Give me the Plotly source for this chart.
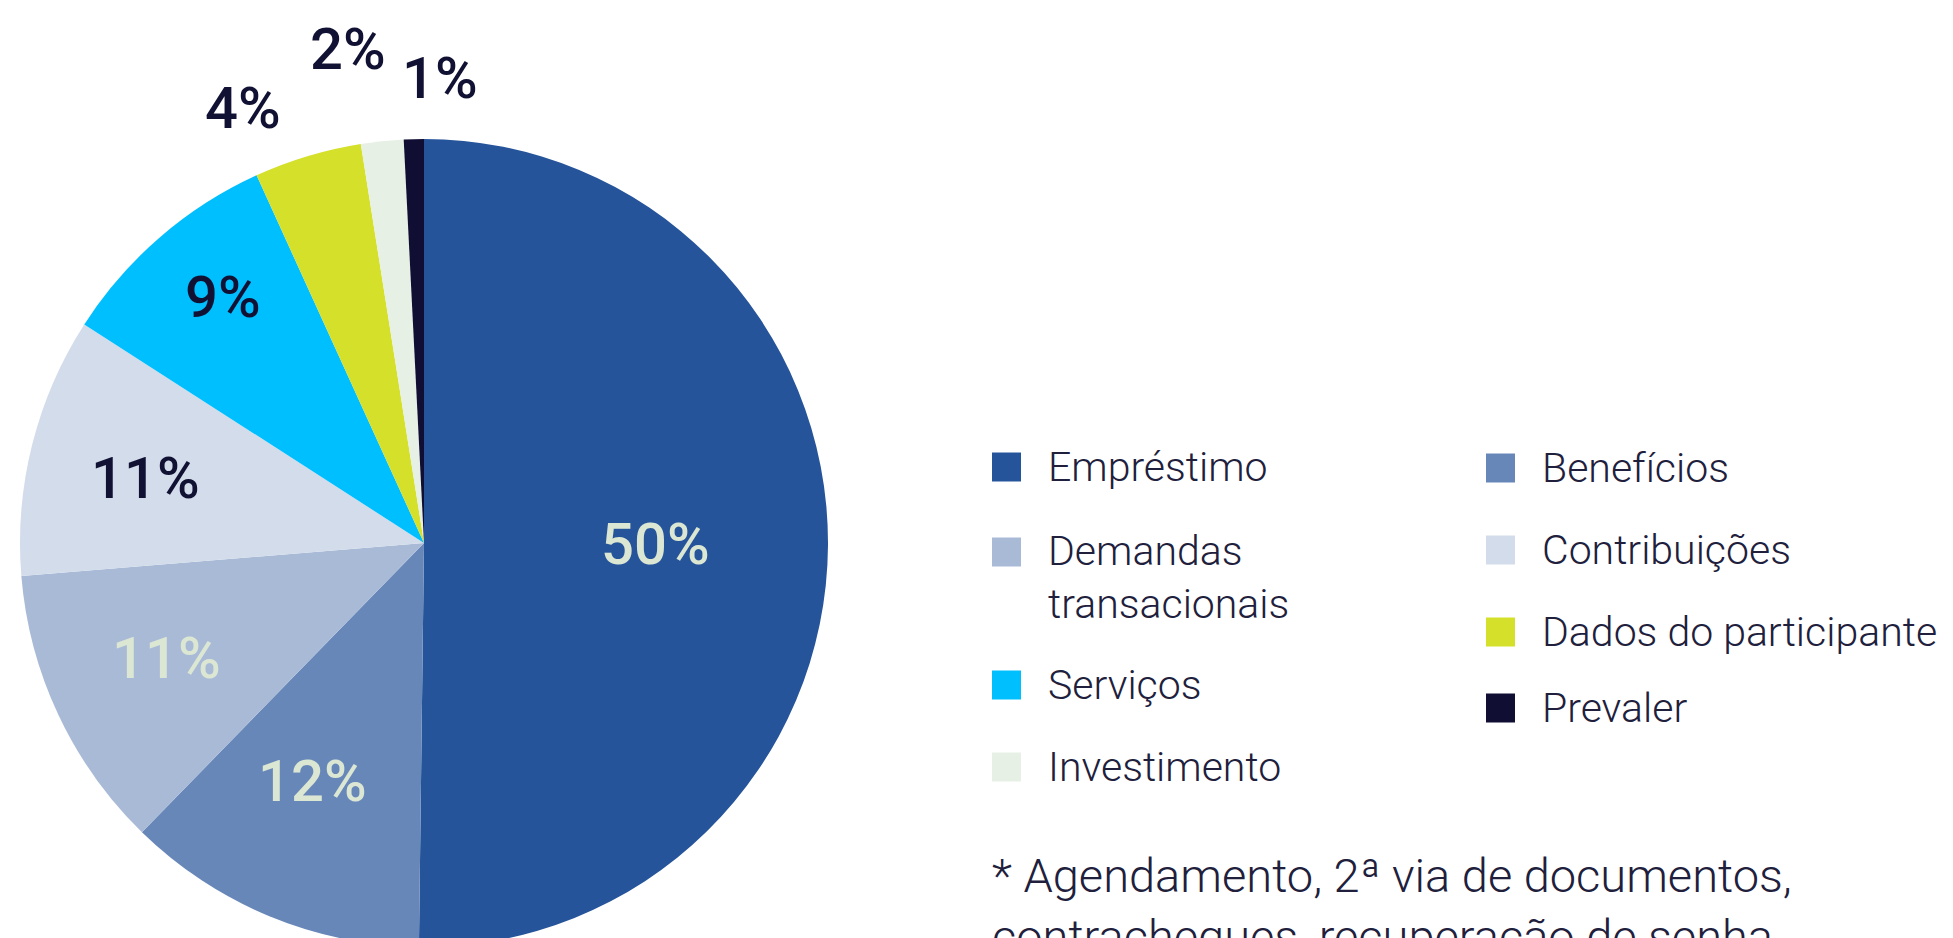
import math
import plotly.graph_objects as go

# ---- data ----
categories = ["Empréstimo", "Benefícios", "Demandas transacionais", "Contribuições",
              "Serviços", "Dados do participante", "Investimento", "Prevaler"]
# slice shares
values = [50.2, 12.1, 11.4, 10.4, 9.1, 4.3, 1.7, 0.8]
# percentages as printed on the chart
pct_labels = ["50%", "12%", "11%", "11%", "9%", "4%", "2%", "1%"]
colors = ["#25549a", "#6787b9", "#a9bad7", "#d3dcea",
          "#00bfff", "#d4e029", "#e6f0e4", "#100e33"]
label_colors = ["#dbe6d3", "#dbe6d3", "#dbe6d3", "#111133",
                "#111133", "#111133", "#111133", "#111133"]
footnote = "* Agendamento, 2ª via de documentos,<br>contracheques, recuperação de senha"

# legend layout (two columns), item order per column
legend_left = ["Empréstimo", "Demandas transacionais", "Serviços", "Investimento"]
legend_right = ["Benefícios", "Contribuições", "Dados do participante", "Prevaler"]

# percentage label placement per slice: (radial factor of the radius, angle nudge in degrees)
label_radial = [0.574, 0.651, 0.697, 0.707, 0.786, 1.166, 1.237, 1.151]
label_nudge = [-0.1, 2.7, 1.1, -0.8, 1.6, -5.9, -2.8, 3.4]

W, H = 1953, 1000
FONT = "Roboto"
TXT = "#20203c"
LABEL_SIZE = 58

# pie geometry (pixels)
CX, CY, R = 424, 543, 404

def px(x):
    return x / W

def py(y):
    return 1 - y / H

fig = go.Figure()
fig.add_trace(go.Pie(
    labels=categories,
    values=values,
    sort=False,
    direction="clockwise",
    rotation=0,
    marker=dict(colors=colors, line=dict(width=0)),
    textinfo="none",
    showlegend=False,
    hoverinfo="label+percent",
    domain=dict(x=[px(CX - R), px(CX + R)], y=[py(CY + R), py(CY - R)]),
))

shapes = []
annotations = []

# percentage labels, positioned from the slice mid-angles
total = sum(values)
cum = 0
for v, txt, lc, k, nudge in zip(values, pct_labels, label_colors, label_radial, label_nudge):
    mid = (cum + v / 2) / total * 360
    cum += v
    a = math.radians(mid + nudge)
    lx = CX + k * R * math.sin(a)
    ly = CY - k * R * math.cos(a)
    annotations.append(dict(xref="paper", yref="paper", x=px(lx), y=py(ly),
                            xanchor="center", yanchor="middle", showarrow=False,
                            text=txt,
                            font=dict(family=FONT, size=LABEL_SIZE, color=lc, weight=500)))

col_geom = [
    (legend_left, 992, 1046, [467, 552, 685, 767]),
    (legend_right, 1486, 1540, [468, 550, 632, 708]),
]
for names, sx, tx, ys in col_geom:
    for name, yc in zip(names, ys):
        c = colors[categories.index(name)]
        shapes.append(dict(type="rect", xref="paper", yref="paper",
                           x0=px(sx), x1=px(sx + 29), y0=py(yc + 14.5), y1=py(yc - 14.5),
                           fillcolor=c, line=dict(width=0)))
        label = name
        yy = yc
        if name == "Demandas transacionais":
            label = "Demandas<br>transacionais"
            yy = yc + 25
        annotations.append(dict(xref="paper", yref="paper", x=px(tx), y=py(yy),
                                xanchor="left", yanchor="middle", showarrow=False,
                                text=label, align="left",
                                font=dict(family=FONT, size=41, color=TXT, weight=300)))

annotations.append(dict(xref="paper", yref="paper", x=px(990), y=py(846),
                        xanchor="left", yanchor="top", showarrow=False, align="left",
                        text=footnote,
                        font=dict(family=FONT, size=47, color=TXT, weight=300)))

fig.update_layout(
    width=W, height=H,
    margin=dict(l=0, r=0, t=0, b=0, pad=0, autoexpand=False),
    paper_bgcolor="white", plot_bgcolor="white",
    shapes=shapes, annotations=annotations,
)

fig.write_html("out.html", config={"displayModeBar": False}, post_script=(
    "document.body.style.margin='0';"
    "document.documentElement.style.overflow='hidden';"
    "document.body.style.overflow='hidden';"))
